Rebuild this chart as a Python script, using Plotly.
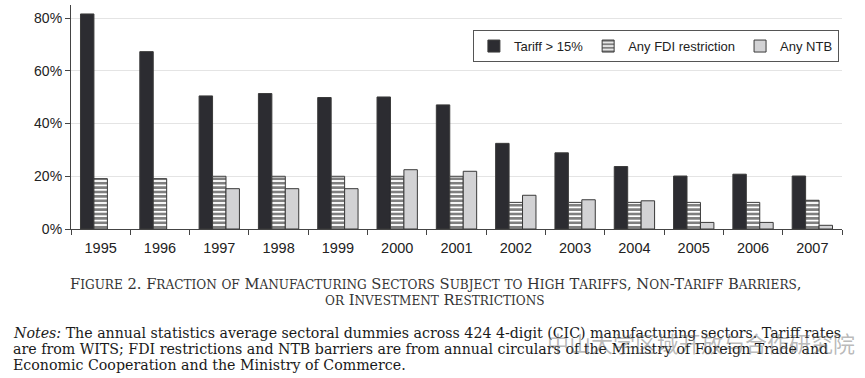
import plotly.graph_objects as go

years = ["1995", "1996", "1997", "1998", "1999", "2000", "2001",
         "2002", "2003", "2004", "2005", "2006", "2007"]
tariff = [81.6, 67.3, 50.5, 51.4, 49.9, 50.1, 47.1, 32.5, 28.9, 23.7, 20.1, 20.8, 20.1]
fdi = [19.1, 19.1, 20.0, 20.0, 20.0, 20.0, 20.0, 10.1, 10.1, 10.1, 10.1, 10.1, 10.9]
ntb = [None, None, 15.3, 15.3, 15.3, 22.5, 21.9, 12.8, 11.1, 10.7, 2.5, 2.5, 1.4]
y_ticks = [0, 20, 40, 60, 80]
y_tick_labels = ["0%", "20%", "40%", "60%", "80%"]

caption1 = "Figure 2. Fraction of Manufacturing Sectors Subject to High Tariffs, Non-Tariff Barriers,"
caption2 = "or Investment Restrictions"
notes1 = "<i>Notes:</i> The annual statistics average sectoral dummies across 424 4-digit (CIC) manufacturing sectors. Tariff rates"
notes2 = "are from WITS; FDI restrictions and NTB barriers are from annual circulars of the Ministry of Foreign Trade and"
notes3 = "Economic Cooperation and the Ministry of Commerce."
watermark = "中山大学区域开放与合作研究院"


def small_caps(s, small_px):
    out, run = [], ""
    for ch in s:
        if ch.islower():
            run += ch.upper()
        else:
            if run:
                out.append(f'<span style="font-size:{small_px}px">{run}</span>')
                run = ""
            out.append(ch)
    if run:
        out.append(f'<span style="font-size:{small_px}px">{run}</span>')
    return "".join(out)


fig = go.Figure()
line = dict(color="#3a3a3a", width=1)
fig.add_bar(x=years, y=tariff, name="Tariff > 15%",
            marker=dict(color="#2c2c31", line=line))
fig.add_bar(x=years, y=fdi, name="Any FDI restriction",
            marker=dict(color="white", line=line,
                        pattern=dict(shape="-", fgcolor="black", bgcolor="white",
                                     size=4.4, solidity=0.6)))
fig.add_bar(x=years, y=ntb, name="Any NTB",
            marker=dict(color="#d2d2d4", line=line))

fig.update_layout(
    width=865, height=378,
    margin=dict(l=71, r=23, t=5, b=149),
    paper_bgcolor="white", plot_bgcolor="white",
    barmode="group", bargap=0.32, bargroupgap=0,
    font=dict(family="Liberation Sans, Arial, sans-serif", size=13, color="#222"),
    showlegend=True,
    legend=dict(orientation="h", x=0.996, xanchor="right", y=0.888, yanchor="top",
                bordercolor="#555", borderwidth=1, bgcolor="white",
                font=dict(size=13), traceorder="normal"),
    xaxis=dict(showline=True, linecolor="#444", linewidth=1.2,
               ticks="outside", tickson="boundaries", ticklen=5, tickcolor="#444",
               showgrid=False, tickfont=dict(size=14.5), ticklabelstandoff=5),
    yaxis=dict(range=[0, 85], tickvals=y_ticks, ticktext=y_tick_labels,
               showline=True, linecolor="#444", linewidth=1.2,
               ticks="outside", ticklen=5, tickcolor="#444",
               showgrid=True, gridcolor="#e4e4e4", gridwidth=1,
               zeroline=False, tickfont=dict(size=14)),
)

serif = "DejaVu Serif, Liberation Serif, serif"


def add_px(text, x, y, size, xanchor="left", fam=serif, color="#1a1a1a"):
    fig.add_annotation(text=text, x=(x - 71) / 771, y=(229 - y) / 224,
                       xref="paper", yref="paper", xanchor=xanchor, yanchor="middle",
                       showarrow=False,
                       font=dict(family=fam, size=size, color=color))


add_px(small_caps(caption1, 12.1), 435, 283, 14.7, "center", color="#333")
add_px(small_caps(caption2, 12.1), 435, 299, 14.7, "center", color="#333")
add_px(notes1, 11, 333, 14.2)
add_px(notes2, 11, 349, 14.2)
add_px(notes3, 11, 365, 14.2)
add_px(watermark, 545, 342, 22, fam="Noto Sans CJK SC", color="rgba(100,100,100,0.45)")

fig.write_html("out.html", post_script="document.body.style.margin='0';",
               config={"displayModeBar": False})
